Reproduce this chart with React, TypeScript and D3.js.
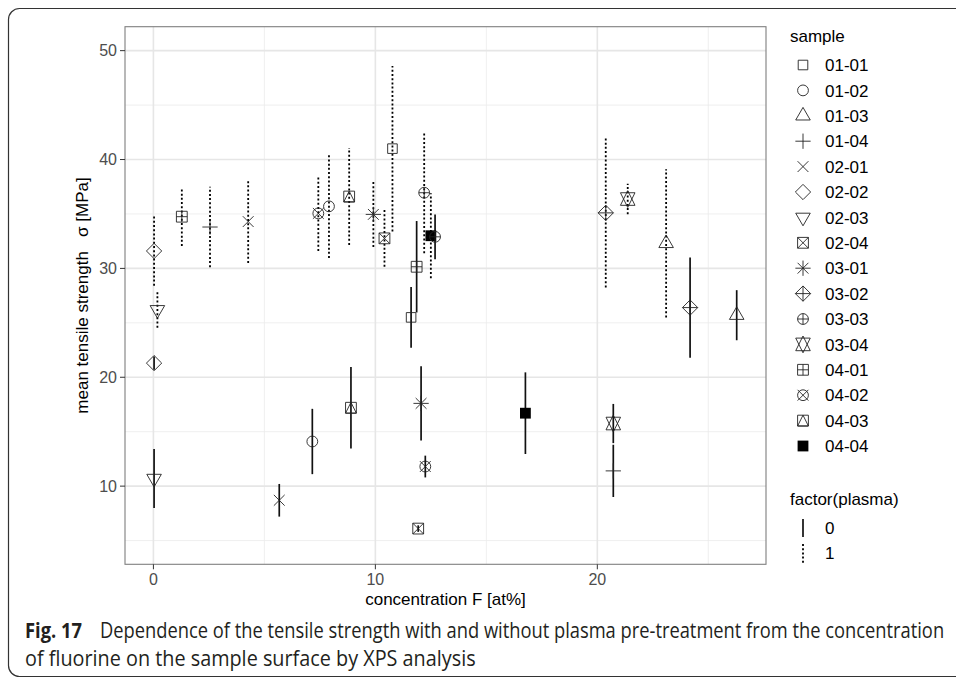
import { useLayoutEffect, useRef, useState } from 'react'
import * as d3 from 'd3'

const SAMPLES = ['01-01', '01-02', '01-03', '01-04', '02-01', '02-02', '02-03', '02-04',
  '03-01', '03-02', '03-03', '03-04', '04-01', '04-02', '04-03', '04-04']

// plasma = 1 (dotted error bars)
const p1Sample = ['02-02', '02-03', '04-01', '01-04', '02-01', '04-02', '01-02', '04-03',
  '03-01', '02-04', '01-01', '03-03', '04-04', '03-02', '03-04', '01-03']
const p1Conc = [0.03, 0.18, 1.28, 2.55, 4.27, 7.43, 7.91, 8.82, 9.91, 10.41, 10.77, 12.2, 12.5, 20.38, 21.37, 23.1]
const p1Mean = [31.6, 26.2, 34.75, 33.8, 34.3, 35.05, 35.7, 36.6, 34.96, 32.76, 41.0, 36.95, 33.0, 35.1, 36.37, 32.3]
const p1Sd = [3.2, 1.65, 2.7, 3.7, 3.8, 3.45, 4.75, 4.45, 3.0, 2.6, 7.6, 5.55, 3.9, 6.85, 1.4, 6.8]

// plasma = 0 (solid error bars)
const p0Sample = ['02-02', '02-03', '02-01', '01-02', '04-03', '01-01', '04-01', '02-04',
  '04-02', '03-01', '03-03', '04-04', '03-04', '01-04', '03-02', '01-03']
const p0Conc = [0.03, 0.03, 5.67, 7.16, 8.9, 11.61, 11.86, 11.93, 12.25, 12.06, 12.69, 16.76, 20.72, 20.72, 24.18, 26.28]
const p0Mean = [21.3, 10.7, 8.7, 14.1, 17.2, 25.5, 30.15, 6.1, 11.8, 17.6, 32.9, 16.7, 15.75, 11.4, 26.4, 25.7]
const p0Sd = [0.6, 2.7, 1.5, 3.0, 3.75, 2.8, 4.2, 0.3, 1.0, 3.4, 2.05, 3.75, 1.8, 2.4, 4.6, 2.3]

const X_TICKS = [0, 10, 20]
const X_MINOR = [5, 15, 25]
const Y_TICKS = [10, 20, 30, 40, 50]
const Y_MINOR = [5, 15, 25, 35, 45]

const W = 956
const H = 679
const panel = { left: 125, right: 766, top: 26.7, bottom: 564.3 }
const FONT = 'Liberation Sans, Arial, Helvetica, sans-serif'
const CAPTION_FONT = "'Liberation Sans Narrow', 'Open Sans', sans-serif"

const x = d3.scaleLinear().domain([-1.28, 27.6]).range([panel.left, panel.right])
const y = d3.scaleLinear().domain([2.82, 52.2]).range([panel.bottom, panel.top])

const R = 5.4
const TRC0 = 1.5551203
const TRC1 = TRC0 * Math.sqrt(3) / 2
const TRC2 = TRC0 / 2

// R pch shapes 0..15
function shape(idx: number, cx: number, cy: number) {
  const sq = (h: number) => `M${cx - h},${cy - h}H${cx + h}V${cy + h}H${cx - h}Z`
  const plus = (h: number) => `M${cx - h},${cy}H${cx + h}M${cx},${cy - h}V${cy + h}`
  const cross = (h: number) => `M${cx - h},${cy - h}L${cx + h},${cy + h}M${cx - h},${cy + h}L${cx + h},${cy - h}`
  const circ = (r: number) => `M${cx - r},${cy}a${r},${r} 0 1,0 ${2 * r},0a${r},${r} 0 1,0 ${-2 * r},0`
  const diam = (h: number) => `M${cx},${cy - h}L${cx + h},${cy}L${cx},${cy + h}L${cx - h},${cy}Z`
  const r = TRC0 * R, xc = TRC1 * R, yc = TRC2 * R
  const triUp = `M${cx},${cy - r}L${cx + xc},${cy + yc}L${cx - xc},${cy + yc}Z`
  const triDown = `M${cx},${cy + r}L${cx + xc},${cy - yc}L${cx - xc},${cy - yc}Z`
  const yc2 = 0.5 * (yc + r)
  switch (idx) {
    case 0: return sq(0.886 * R)
    case 1: return circ(R)
    case 2: return triUp
    case 3: return plus(Math.SQRT2 * R)
    case 4: return cross(R)
    case 5: return diam(Math.SQRT2 * R)
    case 6: return triDown
    case 7: return sq(R) + cross(R)
    case 8: return cross(R) + plus(Math.SQRT2 * R)
    case 9: return diam(Math.SQRT2 * R) + plus(Math.SQRT2 * R)
    case 10: return circ(R) + plus(R)
    case 11:
      return `M${cx},${cy + r}L${cx + xc},${cy - yc2}L${cx - xc},${cy - yc2}Z` +
        `M${cx},${cy - r}L${cx + xc},${cy + yc2}L${cx - xc},${cy + yc2}Z`
    case 12: return sq(R) + plus(R)
    case 13: return circ(R) + cross(R)
    case 14: return sq(R) + `M${cx},${cy - R}L${cx + R},${cy + R}L${cx - R},${cy + R}Z`
    default: return sq(R)
  }
}

function Symbol({ sample, cx, cy }: { sample: string; cx: number; cy: number }) {
  const idx = SAMPLES.indexOf(sample)
  if (idx === 15) {
    return <rect x={cx - R} y={cy - R} width={2 * R} height={2 * R} fill="#000" />
  }
  return <path d={shape(idx, cx, cy)} fill="none" stroke="#222" strokeWidth={0.9} />
}

// caption text squeezed horizontally to a given width (condensed face look)
function FitText({ x0, y0, width, bold, children }: { x0: number; y0: number; width: number; bold?: boolean; children: string }) {
  const ref = useRef<SVGTextElement>(null)
  const [sx, setSx] = useState(1)
  useLayoutEffect(() => {
    if (!ref.current) return
    const len = ref.current.getComputedTextLength()
    if (len > 0) setSx(width / len)
  }, [width, children])
  return (
    <text ref={ref} transform={`translate(${x0},${y0}) scale(${sx},1)`} fontSize={21} fill="#231f20"
      fontWeight={bold ? 'bold' : 'normal'} fontFamily={CAPTION_FONT}>
      {children}
    </text>
  )
}

export default function App() {
  const p1 = p1Sample.map((s, i) => ({ s, f: p1Conc[i], m: p1Mean[i], sd: p1Sd[i] }))
  const p0 = p0Sample.map((s, i) => ({ s, f: p0Conc[i], m: p0Mean[i], sd: p0Sd[i] }))
  const legendY = (i: number) => 65 + i * 25.4

  return (
    <svg width={W} height={H} style={{ position: 'absolute', left: 0, top: 0 }} fontFamily={FONT}>
      <rect x={0} y={0} width={W} height={H} fill="#fff" />
      <rect x={8.5} y={8.5} width={1000} height={668} rx={11} fill="none" stroke="#333" strokeWidth={1.2} />

      {/* grid */}
      {Y_MINOR.map(v => (
        <line key={'ym' + v} x1={panel.left} x2={panel.right} y1={y(v)} y2={y(v)} stroke="#ebebeb" strokeWidth={0.8} />
      ))}
      {X_MINOR.map(v => (
        <line key={'xm' + v} y1={panel.top} y2={panel.bottom} x1={x(v)} x2={x(v)} stroke="#ebebeb" strokeWidth={0.8} />
      ))}
      {Y_TICKS.map(v => (
        <line key={'yg' + v} x1={panel.left} x2={panel.right} y1={y(v)} y2={y(v)} stroke="#e6e6e6" strokeWidth={1.6} />
      ))}
      {X_TICKS.map(v => (
        <line key={'xg' + v} y1={panel.top} y2={panel.bottom} x1={x(v)} x2={x(v)} stroke="#e6e6e6" strokeWidth={1.6} />
      ))}

      {/* error bars */}
      {p1.map((d, i) => (
        <line key={'e1' + i} x1={x(d.f)} x2={x(d.f)} y1={y(d.m - d.sd)} y2={y(d.m + d.sd)}
          stroke="#000" strokeWidth={1.8} strokeDasharray="2,2.2" />
      ))}
      {p0.map((d, i) => (
        <line key={'e0' + i} x1={x(d.f)} x2={x(d.f)} y1={y(d.m - d.sd)} y2={y(d.m + d.sd)}
          stroke="#111" strokeWidth={1.7} />
      ))}

      {/* points */}
      {p1.map((d, i) => <Symbol key={'s1' + i} sample={d.s} cx={x(d.f)} cy={y(d.m)} />)}
      {p0.map((d, i) => <Symbol key={'s0' + i} sample={d.s} cx={x(d.f)} cy={y(d.m)} />)}

      {/* panel border */}
      <rect x={panel.left} y={panel.top} width={panel.right - panel.left} height={panel.bottom - panel.top}
        fill="none" stroke="#7f7f7f" strokeWidth={1.1} />

      {/* axes */}
      {Y_TICKS.map(v => (
        <g key={'yt' + v}>
          <line x1={panel.left - 5} x2={panel.left} y1={y(v)} y2={y(v)} stroke="#333" strokeWidth={1} />
          <text x={panel.left - 8} y={y(v)} dy="0.36em" textAnchor="end" fontSize={16} fill="#4d4d4d">{v}</text>
        </g>
      ))}
      {X_TICKS.map(v => (
        <g key={'xt' + v}>
          <line y1={panel.bottom} y2={panel.bottom + 5} x1={x(v)} x2={x(v)} stroke="#333" strokeWidth={1} />
          <text x={x(v)} y={panel.bottom + 21} textAnchor="middle" fontSize={16} fill="#4d4d4d">{v}</text>
        </g>
      ))}
      <text x={(panel.left + panel.right) / 2} y={605} textAnchor="middle" fontSize={17} fill="#000">
        concentration F [at%]
      </text>
      <text transform={`translate(88,${(panel.top + panel.bottom) / 2}) rotate(-90)`} textAnchor="middle"
        fontSize={17} fill="#000" style={{ whiteSpace: 'pre' }}>
        {'mean tensile strength   σ [MPa]'}
      </text>

      {/* legend: sample */}
      <text x={790} y={42} fontSize={17} fill="#000">sample</text>
      {SAMPLES.map((s, i) => (
        <g key={'lg' + s}>
          <Symbol sample={s} cx={803} cy={legendY(i)} />
          <text x={825} y={legendY(i)} dy="0.36em" fontSize={17} fill="#000">{s}</text>
        </g>
      ))}

      {/* legend: plasma */}
      <text x={790} y={505} fontSize={17} fill="#000">factor(plasma)</text>
      <line x1={803} x2={803} y1={519} y2={537} stroke="#111" strokeWidth={1.7} />
      <text x={825} y={528.3} dy="0.36em" fontSize={17} fill="#000">0</text>
      <line x1={803} x2={803} y1={544} y2={563} stroke="#000" strokeWidth={1.8} strokeDasharray="2,2.2" />
      <text x={825} y={553.3} dy="0.36em" fontSize={17} fill="#000">1</text>

      {/* caption */}
      <FitText x0={25} y0={638} width={57} bold>Fig. 17</FitText>
      <FitText x0={100} y0={638} width={845}>
        Dependence of the tensile strength with and without plasma pre-treatment from the concentration
      </FitText>
      <FitText x0={25} y0={666} width={451}>of fluorine on the sample surface by XPS analysis</FitText>
    </svg>
  )
}
